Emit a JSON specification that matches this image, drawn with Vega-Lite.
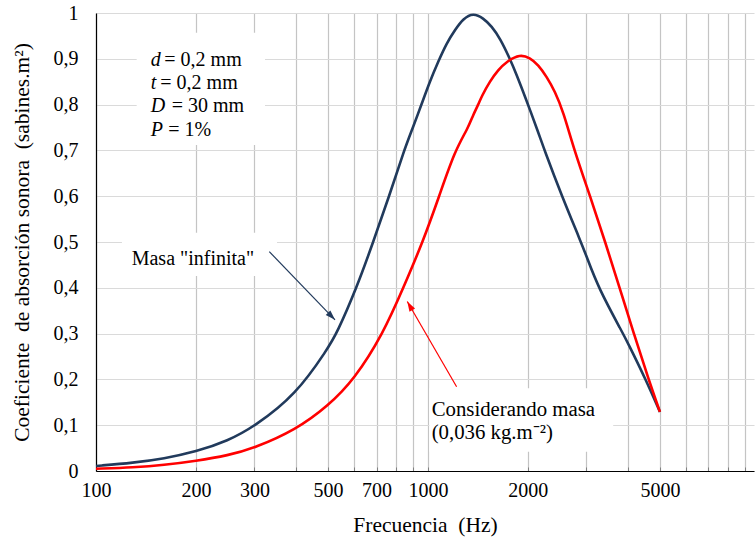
{
  "$schema": "https://vega.github.io/schema/vega-lite/v6.json",
  "width": 658,
  "height": 458,
  "autosize": {"type": "none"},
  "padding": {"left": 96, "top": 13, "right": 1, "bottom": 75},
  "background": "white",
  "config": {
    "view": {"stroke": null},
    "font": "Liberation Serif",
    "axis": {
      "labelFont": "Liberation Serif",
      "titleFont": "Liberation Serif",
      "labelColor": "black",
      "titleColor": "black",
      "titleFontWeight": "normal",
      "domainColor": "black",
      "domainWidth": 1.2,
      "labelFontSize": 20,
      "titleFontSize": 21.5
    }
  },
  "datasets": {
    "curves": [
      {"series": "inf", "f": 100, "v": 0.011},
      {"series": "inf", "f": 130, "v": 0.018},
      {"series": "inf", "f": 160, "v": 0.027},
      {"series": "inf", "f": 200, "v": 0.042},
      {"series": "inf", "f": 250, "v": 0.066},
      {"series": "inf", "f": 300, "v": 0.097},
      {"series": "inf", "f": 400, "v": 0.166},
      {"series": "inf", "f": 500, "v": 0.268},
      {"series": "inf", "f": 531, "v": 0.3},
      {"series": "inf", "f": 610, "v": 0.4},
      {"series": "inf", "f": 684, "v": 0.5},
      {"series": "inf", "f": 764, "v": 0.6},
      {"series": "inf", "f": 847, "v": 0.7},
      {"series": "inf", "f": 900, "v": 0.749},
      {"series": "inf", "f": 957, "v": 0.801},
      {"series": "inf", "f": 1014, "v": 0.851},
      {"series": "inf", "f": 1074, "v": 0.894},
      {"series": "inf", "f": 1138, "v": 0.934},
      {"series": "inf", "f": 1206, "v": 0.963},
      {"series": "inf", "f": 1278, "v": 0.988},
      {"series": "inf", "f": 1369, "v": 1.0},
      {"series": "inf", "f": 1468, "v": 0.989},
      {"series": "inf", "f": 1556, "v": 0.971},
      {"series": "inf", "f": 1648, "v": 0.945},
      {"series": "inf", "f": 1766, "v": 0.9},
      {"series": "inf", "f": 1850, "v": 0.865},
      {"series": "inf", "f": 1960, "v": 0.818},
      {"series": "inf", "f": 2149, "v": 0.74},
      {"series": "inf", "f": 2245, "v": 0.7},
      {"series": "inf", "f": 2533, "v": 0.6},
      {"series": "inf", "f": 2890, "v": 0.5},
      {"series": "inf", "f": 3000, "v": 0.47},
      {"series": "inf", "f": 3260, "v": 0.4},
      {"series": "inf", "f": 3870, "v": 0.3},
      {"series": "inf", "f": 4000, "v": 0.28},
      {"series": "inf", "f": 4530, "v": 0.2},
      {"series": "inf", "f": 5000, "v": 0.129},
      {"series": "masa", "f": 100, "v": 0.005},
      {"series": "masa", "f": 130, "v": 0.008},
      {"series": "masa", "f": 160, "v": 0.013},
      {"series": "masa", "f": 200, "v": 0.022},
      {"series": "masa", "f": 250, "v": 0.034},
      {"series": "masa", "f": 300, "v": 0.05},
      {"series": "masa", "f": 400, "v": 0.09},
      {"series": "masa", "f": 500, "v": 0.142},
      {"series": "masa", "f": 600, "v": 0.2},
      {"series": "masa", "f": 733, "v": 0.3},
      {"series": "masa", "f": 843, "v": 0.4},
      {"series": "masa", "f": 965, "v": 0.5},
      {"series": "masa", "f": 1081, "v": 0.6},
      {"series": "masa", "f": 1206, "v": 0.7},
      {"series": "masa", "f": 1322, "v": 0.749},
      {"series": "masa", "f": 1369, "v": 0.778},
      {"series": "masa", "f": 1418, "v": 0.8},
      {"series": "masa", "f": 1451, "v": 0.818},
      {"series": "masa", "f": 1537, "v": 0.851},
      {"series": "masa", "f": 1628, "v": 0.876},
      {"series": "masa", "f": 1726, "v": 0.894},
      {"series": "masa", "f": 1893, "v": 0.91},
      {"series": "masa", "f": 2029, "v": 0.902},
      {"series": "masa", "f": 2149, "v": 0.887},
      {"series": "masa", "f": 2278, "v": 0.861},
      {"series": "masa", "f": 2413, "v": 0.829},
      {"series": "masa", "f": 2556, "v": 0.785},
      {"series": "masa", "f": 2760, "v": 0.7},
      {"series": "masa", "f": 3080, "v": 0.6},
      {"series": "masa", "f": 3420, "v": 0.5},
      {"series": "masa", "f": 3780, "v": 0.4},
      {"series": "masa", "f": 4170, "v": 0.3},
      {"series": "masa", "f": 4620, "v": 0.2},
      {"series": "masa", "f": 5000, "v": 0.129}
    ],
    "boxes": [
      {"f": 132.6, "f2": 323, "v": 0.712, "v2": 0.957},
      {"f": 119.7, "f2": 351, "v": 0.426, "v2": 0.52},
      {"f": 1010, "f2": 3615, "v": 0.0422, "v2": 0.1807}
    ],
    "arrows": [
      {"series": "inf", "f": 524.8, "v": 0.33, "f2": 332.7, "v2": 0.479},
      {"series": "masa", "f": 866.4, "v": 0.37, "f2": 1220, "v2": 0.184}
    ],
    "letters": [
      {"t": "d", "f": 146.1, "v": 0.898},
      {"t": "t", "f": 146.1, "v": 0.848},
      {"t": "D", "f": 146.1, "v": 0.796},
      {"t": "P", "f": 146.1, "v": 0.744}
    ],
    "rest": [
      {"t": "= 0,2 mm", "f": 160.6, "v": 0.898},
      {"t": "= 0,2 mm", "f": 156.2, "v": 0.848},
      {"t": "= 30 mm", "f": 169.1, "v": 0.796},
      {"t": "= 1%", "f": 165.0, "v": 0.744}
    ],
    "notes": [
      {"t": "Masa \"infinita\"", "f": 128.1, "v": 0.4625}
    ],
    "notes2": [
      {"t": "Considerando masa", "f": 1026, "v": 0.1333},
      {"t": "(0,036 kg.m⁻²)", "f": 1026, "v": 0.0824}
    ]
  },
  "encoding": {
    "x": {
      "field": "f",
      "type": "quantitative",
      "scale": {"type": "log", "domain": [100, 9600], "nice": false},
      "axis": {
        "title": "Frecuencia \u00a0(Hz)",
        "values": [100, 200, 300, 400, 500, 600, 700, 800, 900, 1000, 2000, 3000, 4000, 5000, 6000, 7000, 8000, 9000],
        "labelExpr": "indexof([100,200,300,500,700,1000,2000,5000], datum.value) >= 0 ? format(datum.value, 'd') : ''",
        "labelOverlap": false,
        "labelFlush": false,
        "labelPadding": 13,
        "tickSize": -4,
        "tickColor": "#808080",
        "grid": true,
        "gridColor": "#c4c4c4",
        "gridWidth": 1.2,
        "titlePadding": 14
      }
    },
    "y": {
      "field": "v",
      "type": "quantitative",
      "scale": {"domain": [0, 1], "nice": false},
      "axis": {
        "title": "Coeficiente \u00a0de absorción sonora \u00a0(sabines.m²)",
        "values": [0, 0.1, 0.2, 0.3, 0.4, 0.5, 0.6, 0.7, 0.8, 0.9, 1],
        "labelExpr": "replace(format(datum.value, '~g'), '.', ',')",
        "ticks": false,
        "labelPadding": 18,
        "grid": true,
        "gridColor": "#dadada",
        "gridWidth": 1.2,
        "titlePadding": 20
      }
    }
  },
  "layer": [
    {
      "data": {"name": "boxes"},
      "mark": {"type": "rect", "fill": "white"},
      "encoding": {"x2": {"field": "f2"}, "y2": {"field": "v2"}}
    },
    {
      "data": {"name": "curves"},
      "mark": {"type": "line", "strokeWidth": 2.6, "interpolate": "basis"},
      "encoding": {
        "color": {"field": "series", "type": "nominal", "scale": {"domain": ["inf", "masa"], "range": ["#213A5C", "#FF0000"]}, "legend": null}
      }
    },
    {
      "data": {"name": "arrows"},
      "mark": {"type": "rule", "strokeWidth": 1.2},
      "encoding": {
        "x2": {"field": "f2"},
        "y2": {"field": "v2"},
        "color": {"field": "series", "type": "nominal", "scale": {"domain": ["inf", "masa"], "range": ["#213A5C", "#FF0000"]}, "legend": null}
      }
    },
    {
      "data": {"name": "arrows"},
      "transform": [{"filter": "datum.series == 'inf'"}],
      "mark": {"type": "point", "shape": "M0,0L-0.32,1L0.32,1Z", "size": 400, "filled": true, "opacity": 1, "angle": 136, "color": "#213A5C"}
    },
    {
      "data": {"name": "arrows"},
      "transform": [{"filter": "datum.series == 'masa'"}],
      "mark": {"type": "point", "shape": "M0,0L-0.32,1L0.32,1Z", "size": 400, "filled": true, "opacity": 1, "angle": -30, "color": "#FF0000"}
    },
    {
      "data": {"name": "letters"},
      "mark": {"type": "text", "font": "Liberation Serif", "fontSize": 20, "fontStyle": "italic", "align": "left", "baseline": "middle", "color": "black"},
      "encoding": {"text": {"field": "t"}}
    },
    {
      "data": {"name": "rest"},
      "mark": {"type": "text", "font": "Liberation Serif", "fontSize": 20, "align": "left", "baseline": "middle", "color": "black"},
      "encoding": {"text": {"field": "t"}}
    },
    {
      "data": {"name": "notes"},
      "mark": {"type": "text", "font": "Liberation Serif", "fontSize": 20, "align": "left", "baseline": "middle", "color": "black"},
      "encoding": {"text": {"field": "t"}}
    },
    {
      "data": {"name": "notes2"},
      "mark": {"type": "text", "font": "Liberation Serif", "fontSize": 20.8, "align": "left", "baseline": "middle", "color": "black"},
      "encoding": {"text": {"field": "t"}}
    }
  ]
}
